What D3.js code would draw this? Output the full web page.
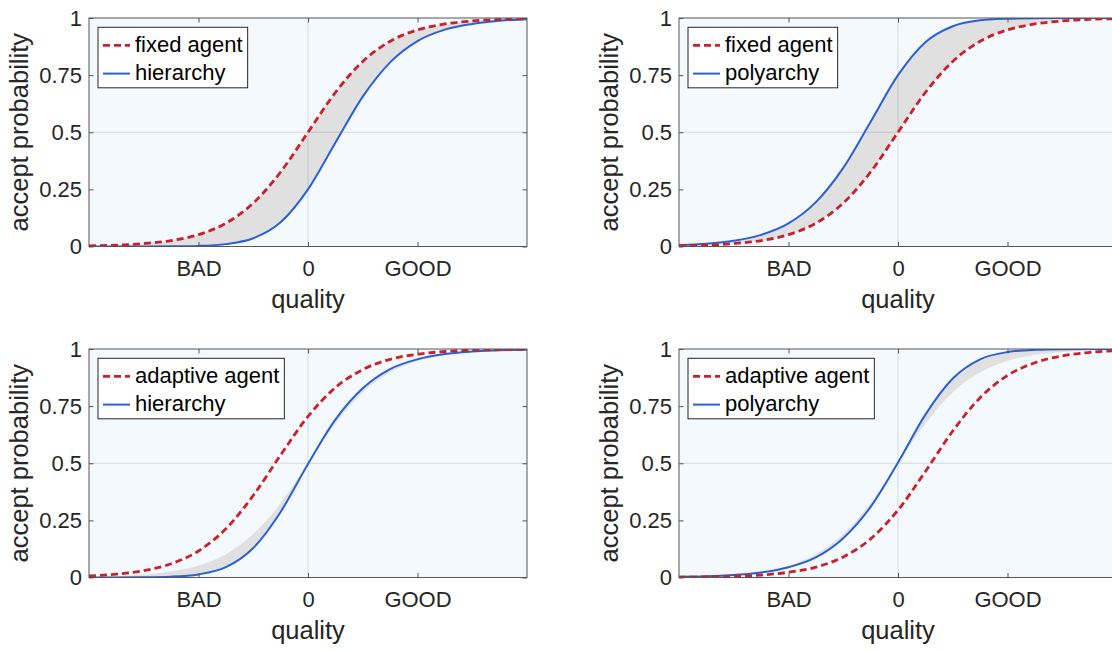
<!DOCTYPE html>
<html>
<head>
<meta charset="utf-8">
<script src="https://cdn.jsdelivr.net/npm/d3@7"></script>
<style>
body { margin: 0; background: #fff; }
svg { display: block; font-family: "Liberation Sans", Arial, Helvetica, sans-serif; }
</style>
</head>
<body>
<svg width="1112" height="651"></svg>
<script>
var quality = [-2, -1.75, -1.5, -1.25, -1, -0.75, -0.5, -0.25, 0, 0.25, 0.5, 0.75, 1, 1.25, 1.5, 1.75, 2];

var fixedAgent     = [0.003, 0.006, 0.013, 0.026, 0.052, 0.102, 0.19, 0.326, 0.5, 0.674, 0.81, 0.898, 0.948, 0.974, 0.987, 0.994, 0.997];
var hierFixed      = [0.00001, 0.00004, 0.0002, 0.0007, 0.0027, 0.0104, 0.036, 0.106, 0.25, 0.454, 0.656, 0.806, 0.899, 0.949, 0.974, 0.988, 0.994];
var polyFixed      = [0.006, 0.012, 0.025, 0.051, 0.101, 0.194, 0.344, 0.546, 0.75, 0.894, 0.964, 0.99, 0.997, 0.9993, 0.9998, 1, 1];

var adaptiveHier   = [0.0072, 0.0147, 0.03, 0.06, 0.116, 0.213, 0.359, 0.536, 0.705, 0.831, 0.91, 0.955, 0.977, 0.989, 0.995, 0.997, 0.999];
var hierAdaptive   = [0.00005, 0.0002, 0.0009, 0.0036, 0.0135, 0.045, 0.129, 0.287, 0.497, 0.691, 0.828, 0.912, 0.955, 0.978, 0.989, 0.995, 0.997];
var adaptivePoly   = [0.0013, 0.0026, 0.0054, 0.011, 0.023, 0.045, 0.09, 0.169, 0.295, 0.464, 0.641, 0.787, 0.884, 0.94, 0.97, 0.985, 0.993];
var polyAdaptive   = [0.003, 0.005, 0.011, 0.022, 0.045, 0.088, 0.172, 0.309, 0.503, 0.713, 0.871, 0.955, 0.9865, 0.9964, 0.9991, 0.9998, 1];

var xTicks = [-1, 0, 1];
var xTickLabels = ["BAD", "0", "GOOD"];
var yTicks = [0, 0.25, 0.5, 0.75, 1];
var yTickLabels = ["0", "0.25", "0.5", "0.75", "1"];

var panels = [
	{ agent: "fixed agent",    group: "hierarchy", agentVals: fixedAgent,   groupVals: hierFixed,    left: 89,  top: 18 },
	{ agent: "fixed agent",    group: "polyarchy", agentVals: fixedAgent,   groupVals: polyFixed,    left: 679, top: 18 },
	{ agent: "adaptive agent", group: "hierarchy", agentVals: adaptiveHier, groupVals: hierAdaptive, left: 89,  top: 349 },
	{ agent: "adaptive agent", group: "polyarchy", agentVals: adaptivePoly, groupVals: polyAdaptive, left: 679, top: 349 }
];

var svg = d3.select("svg");
var w = 438, h = 228.5;
var red = "#c9202a", blue = "#2b5fd6", ink = "#262626";

panels.forEach(function(p, i) {
	var x = d3.scaleLinear().domain([-2, 2]).range([p.left, p.left + w]);
	var y = d3.scaleLinear().domain([0, 1]).range([p.top + h, p.top]);
	var g = svg.append("g");

	g.append("clipPath").attr("id", "clip" + i)
		.append("rect").attr("x", p.left).attr("y", p.top).attr("width", w).attr("height", h);

	g.append("rect")
		.attr("x", p.left).attr("y", p.top).attr("width", w).attr("height", h)
		.attr("fill", "#f4f9fe");

	var plot = g.append("g").attr("clip-path", "url(#clip" + i + ")");

	// grey band between the fixed agent and the group curve
	var area = d3.area()
		.x(function(d, j) { return x(quality[j]); })
		.y0(function(d, j) { return y(fixedAgent[j]); })
		.y1(function(d) { return y(d); })
		.curve(d3.curveMonotoneX);
	plot.append("path").attr("d", area(p.groupVals)).attr("fill", "#e0e0e0");

	// grid at 0 and 0.5 only
	plot.append("line")
		.attr("x1", x(0)).attr("x2", x(0)).attr("y1", p.top).attr("y2", p.top + h)
		.attr("stroke", ink).attr("stroke-opacity", 0.15);
	plot.append("line")
		.attr("x1", p.left).attr("x2", p.left + w).attr("y1", y(0.5)).attr("y2", y(0.5))
		.attr("stroke", ink).attr("stroke-opacity", 0.15);

	var line = d3.line()
		.x(function(d, j) { return x(quality[j]); })
		.y(function(d) { return y(d); })
		.curve(d3.curveMonotoneX);

	plot.append("path").attr("d", line(p.groupVals))
		.attr("fill", "none").attr("stroke", blue).attr("stroke-width", 2);
	plot.append("path").attr("d", line(p.agentVals))
		.attr("fill", "none").attr("stroke", red).attr("stroke-width", 2.8)
		.attr("stroke-dasharray", "7,4");

	// axes, ticks pointing inward on all four sides
	var ax = g.append("g").attr("transform", "translate(0," + (p.top + h) + ")")
		.call(d3.axisBottom(x).tickValues(xTicks).tickSize(-4.5).tickPadding(14)
			.tickFormat(function(d, j) { return xTickLabels[j]; }));
	var ay = g.append("g").attr("transform", "translate(" + p.left + ",0)")
		.call(d3.axisLeft(y).tickValues(yTicks).tickSize(-4.5).tickPadding(7)
			.tickFormat(function(d, j) { return yTickLabels[j]; }));
	g.append("g").attr("transform", "translate(0," + p.top + ")")
		.call(d3.axisTop(x).tickValues(xTicks).tickSize(-4.5).tickFormat(""));
	g.append("g").attr("transform", "translate(" + (p.left + w) + ",0)")
		.call(d3.axisRight(y).tickValues(yTicks).tickSize(-4.5).tickFormat(""));

	g.selectAll(".domain").remove();
	g.selectAll(".tick line").attr("stroke", "#555");
	g.selectAll(".tick text").attr("fill", ink).style("font-size", "22px").style("font-family", "inherit");

	g.append("rect")
		.attr("x", p.left).attr("y", p.top).attr("width", w).attr("height", h)
		.attr("fill", "none").attr("stroke", "#555").attr("stroke-width", 1);

	g.append("text")
		.attr("x", x(0)).attr("y", p.top + h + 61.5)
		.attr("text-anchor", "middle").attr("fill", ink)
		.style("font-size", "25.5px")
		.text("quality");

	g.append("text")
		.attr("transform", "translate(" + (p.left - 61) + "," + (p.top + h / 2) + ") rotate(-90)")
		.attr("text-anchor", "middle").attr("fill", ink)
		.style("font-size", "25.5px")
		.text("accept probability");

	// legend
	var leg = g.append("g").attr("transform", "translate(" + (p.left + 9) + "," + (p.top + 9.3) + ")");
	var box = leg.append("rect").attr("fill", "#fff").attr("stroke", ink).attr("stroke-width", 1).attr("height", 60.5);
	var entries = [
		{ label: p.agent, color: red, width: 2.8, dash: "7,4" },
		{ label: p.group, color: blue, width: 2, dash: null }
	];
	var maxW = 0;
	entries.forEach(function(e, k) {
		var yy = 18 + k * 28.3;
		leg.append("line")
			.attr("x1", 5).attr("x2", 32).attr("y1", yy).attr("y2", yy)
			.attr("stroke", e.color).attr("stroke-width", e.width)
			.attr("stroke-dasharray", e.dash);
		var t = leg.append("text")
			.attr("x", 37).attr("y", yy).attr("dy", "0.3em")
			.attr("fill", "#000").style("font-size", "22px")
			.text(e.label);
		maxW = Math.max(maxW, t.node().getComputedTextLength());
	});
	box.attr("width", 37 + maxW + 5);
});
</script>
</body>
</html>
